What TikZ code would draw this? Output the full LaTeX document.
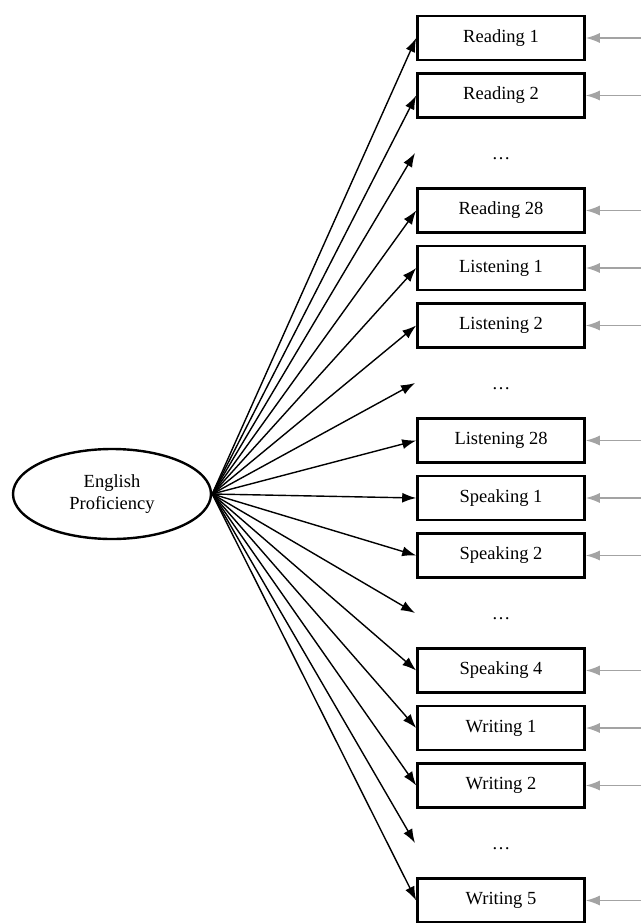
\documentclass[tikz,border=0pt]{standalone}
\usepackage{fontspec}
\setmainfont{Liberation Serif}
\usetikzlibrary{arrows.meta, shapes.geometric}
\definecolor{errgray}{HTML}{A3A3A3}

\begin{document}
\begin{tikzpicture}[x=1pt, y=-1pt]
  \def\rowh{57.5}
  \def\boxx{501}
  \tikzset{
    indicator/.style={draw, line width=2.6pt, minimum width=167pt, minimum height=44pt, inner sep=0pt, font=\fontsize{18.5}{22}\selectfont},
    latent/.style={draw, ellipse, line width=2.4pt, minimum width=198pt, minimum height=90pt, inner sep=0pt, align=center, font=\fontsize{18.5}{22}\selectfont},
    load/.style={-{Latex[length=14pt, width=10pt]}, line width=1.4pt},
    resid/.style={-{Latex[length=14pt, width=10pt]}, line width=1.4pt, errgray},
  }
  \useasboundingbox (0,0) rectangle (641,923);

  % Latent factor
  \node[latent] (prof) at (112, 494) {English\\Proficiency};

  % Observed indicators with loadings and error terms
  \foreach \i/\lbl in {0/Reading 1, 1/Reading 2, 3/Reading 28, 4/Listening 1, 5/Listening 2, 7/Listening 28, 8/Speaking 1, 9/Speaking 2, 11/Speaking 4, 12/Writing 1, 13/Writing 2, 15/Writing 5}{
    \node[indicator] (item\i) at (\boxx, 38+\i*\rowh) {\lbl};
    \coordinate (err\i) at (641, 38+\i*\rowh);
    \draw[load] (prof.east) -- (item\i.west);
    \draw[resid] (err\i) -- (item\i.east);
  }

  % Omitted items
  \foreach \i in {2,6,10,14}{
    \node[font=\fontsize{18.5}{22}\selectfont, anchor=base] (gap\i) at (\boxx, 44+\i*\rowh) {\dots};
    \coordinate (gapin\i) at (415, 38+\i*\rowh);
    \draw[load] (prof.east) -- (gapin\i);
  }
\end{tikzpicture}
\end{document}
